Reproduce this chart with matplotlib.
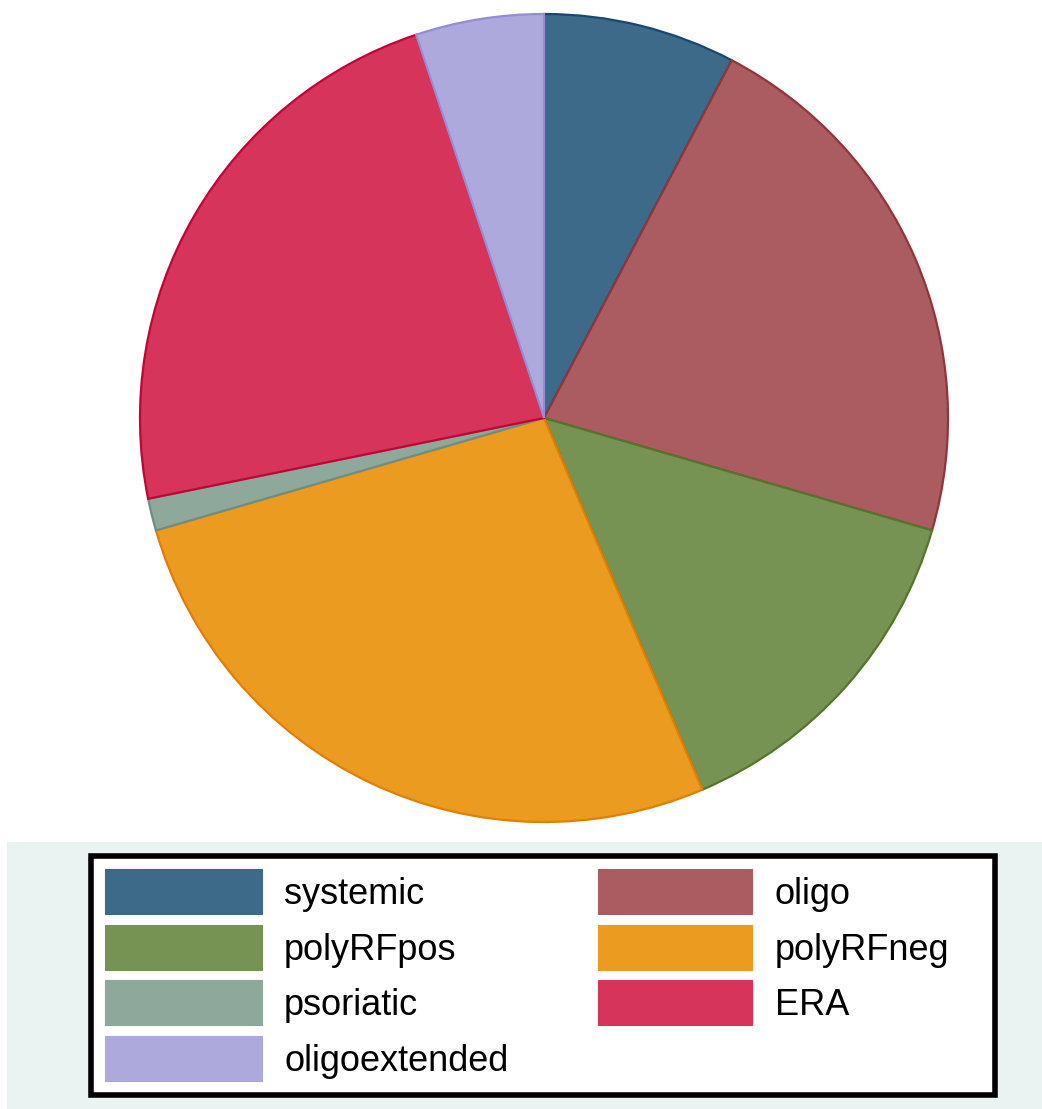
import matplotlib.pyplot as plt
from matplotlib.patches import Rectangle

# patient counts per JIA subtype
categories = ["systemic", "oligo", "polyRFpos", "polyRFneg", "psoriatic", "ERA", "oligoextended"]
counts = [6, 17, 11, 21, 1, 18, 4]

fill_colors = ["#3E6A8A", "#AA5C60", "#779353", "#EA9B20", "#8FA89C", "#D6345A", "#ADA9DD"]
edge_colors = ["#1A476F", "#90353B", "#55752F", "#E37E00", "#6E8E84", "#C10534", "#938DD2"]

W, H = 1042, 1109
fig = plt.figure(figsize=(W / 100, H / 100), dpi=100)
fig.patch.set_facecolor("white")

# pie area: centre (544, 418), radius 404 px
cx, cy, r = 544, 418, 404
ax = fig.add_axes([(cx - r) / W, 1 - (cy + r) / H, 2 * r / W, 2 * r / H])
wedges, _ = ax.pie(counts, colors=fill_colors, startangle=90, counterclock=False,
                   wedgeprops=dict(linewidth=1.6))
for w, ec in zip(wedges, edge_colors):
    w.set_edgecolor(ec)
ax.set_xlim(-1, 1)
ax.set_ylim(-1, 1)
ax.set_aspect("equal")
ax.axis("off")

# legend drawn in pixel coordinates
lg = fig.add_axes([0, 0, 1, 1], zorder=-1)
lg.set_xlim(0, W)
lg.set_ylim(H, 0)
lg.axis("off")
lg.add_patch(Rectangle((7, 842), W - 7, H - 842, facecolor="#EAF2F2", edgecolor="none"))
lg.add_patch(Rectangle((91, 855.5), 904, 239.5, facecolor="white", edgecolor="black", linewidth=4.0))

col_x = [(105, 157, 284), (598, 154, 775)]
row_tops = [869, 924.5, 980, 1036]
for i, (name, col) in enumerate(zip(categories, fill_colors)):
    row, c = divmod(i, 2)
    sx, sw, tx = col_x[c]
    top = row_tops[row]
    lg.add_patch(Rectangle((sx, top), sw, 45, facecolor=col, edgecolor=col, linewidth=0.8))
    lg.text(tx, top + 22.5 + 12.5, name, fontsize=26, family="Liberation Sans",
            va="baseline", ha="left", color="black")

fig.savefig("out.png", dpi=100)
